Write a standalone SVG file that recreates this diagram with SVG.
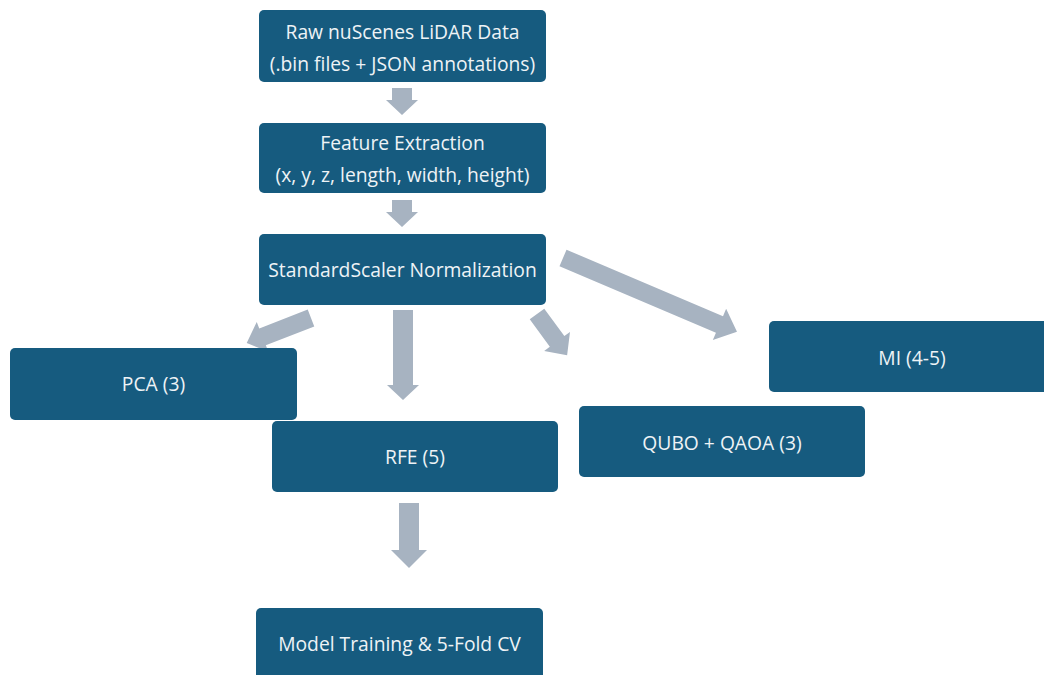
<svg xmlns="http://www.w3.org/2000/svg" width="1044" height="675" viewBox="0 0 1044 675">
<style>
.box{fill:#165b7f;}
.t{fill:#eef3f6;font-family:"Open Sans","Liberation Sans",sans-serif;font-size:19.3px;text-anchor:middle;dominant-baseline:central;}
.arr{fill:#a7b3c1;}
</style>
<rect width="1044" height="675" fill="#ffffff"/>
<g id="connectors">
<polygon class="arr" transform="translate(402,88) rotate(90)" points="0,-10 12,-10 12,-16 27,0 12,16 12,10 0,10"/>
<polygon class="arr" transform="translate(402,200) rotate(90)" points="0,-10 12,-10 12,-16 27,0 12,16 12,10 0,10"/>
<polygon class="arr" transform="translate(403,310) rotate(90)" points="0,-10 75,-10 75,-16 90,0 75,16 75,10 0,10"/>
<polygon class="arr" transform="translate(409,503) rotate(90)" points="0,-10 47,-10 47,-18 65,0 47,18 47,10 0,10"/>
<polygon class="arr" transform="translate(311,318) rotate(158.7)" points="0,-9 52,-9 52,-16 69,0 52,16 52,9 0,9"/>
<polygon class="arr" transform="translate(537,314) rotate(53.8)" points="0,-9 34,-9 34,-16 51,0 34,16 34,9 0,9"/>
<polygon class="arr" transform="translate(563,258) rotate(23)" points="0,-9 170,-9 170,-17 189,0 170,17 170,9 0,9"/>
</g>
<g id="raw">
<rect class="box" x="259" y="10" width="287" height="72" rx="5"/>
<text class="t" x="402.5" y="31">Raw nuScenes LiDAR Data</text>
<text class="t" x="402.5" y="63">(.bin files + JSON annotations)</text>
</g>
<g id="feat">
<rect class="box" x="259" y="123" width="287" height="70" rx="5"/>
<text class="t" x="402.5" y="142">Feature Extraction</text>
<text class="t" x="402.5" y="174">(x, y, z, length, width, height)</text>
</g>
<g id="scaler">
<rect class="box" x="259" y="234" width="287" height="71" rx="5"/>
<text class="t" x="402.5" y="269">StandardScaler Normalization</text>
</g>
<g id="pca">
<rect class="box" x="10" y="348" width="287" height="72" rx="5"/>
<text class="t" x="153.5" y="383">PCA (3)</text>
</g>
<g id="rfe">
<rect class="box" x="272" y="421" width="286" height="71" rx="5"/>
<text class="t" x="415" y="456">RFE (5)</text>
</g>
<g id="mi">
<rect class="box" x="769" y="321" width="290" height="71" rx="5"/>
<text class="t" x="912" y="357">MI (4-5)</text>
</g>
<g id="qubo">
<rect class="box" x="579" y="406" width="286" height="71" rx="5"/>
<text class="t" x="722" y="442">QUBO + QAOA (3)</text>
</g>
<g id="model">
<rect class="box" x="256" y="608" width="287" height="75" rx="5"/>
<text class="t" x="399.5" y="643">Model Training &amp; 5-Fold CV</text>
</g>
</svg>
